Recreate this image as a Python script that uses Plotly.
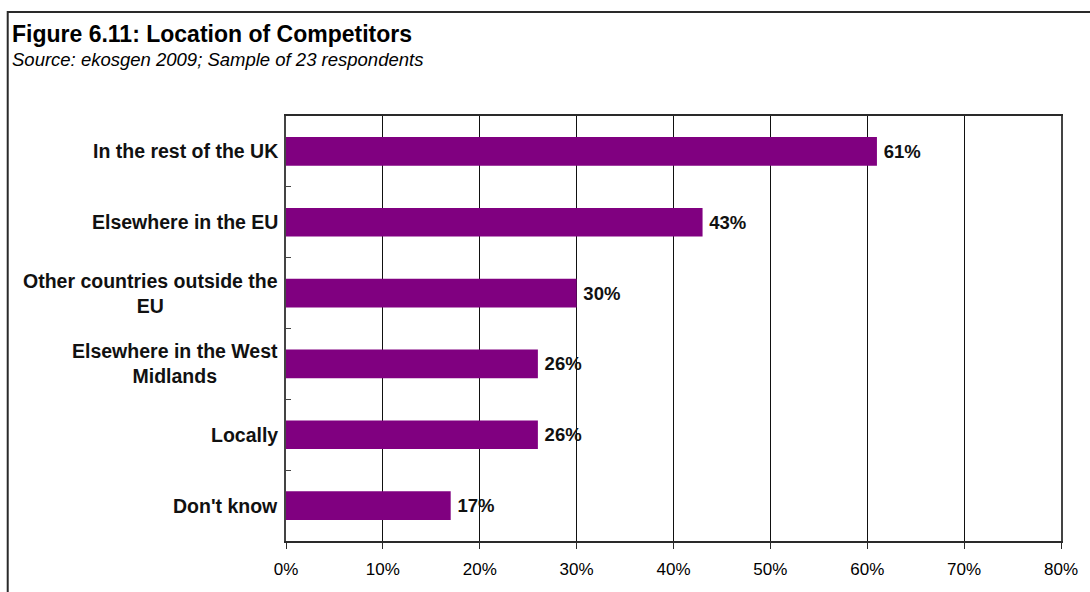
import plotly.graph_objects as go

# Survey responses: where firms see their competitors located
categories = [
    "In the rest of the UK",
    "Elsewhere in the EU",
    "Other countries outside the<br>EU",
    "Elsewhere in the West<br>Midlands",
    "Locally",
    "Don't know",
]
shares = [61, 43, 30, 26, 26, 17]  # percent of respondents

title_text = "Figure 6.11: Location of Competitors"
subtitle_text = "Source: ekosgen 2009; Sample of 23 respondents"

FONT = "Liberation Sans, Arial, sans-serif"
W, H = 1090, 592
ML, MR, MT, MB = 286, 27, 116, 51
PW, PH = W - ML - MR, H - MT - MB


def px_x(px):
    """Convert a pixel x position in the page to paper coordinates."""
    return (px - ML) / PW


def px_y(py):
    """Convert a pixel y position in the page to paper coordinates."""
    return 1 - (py - MT) / PH


fig = go.Figure(
    go.Bar(
        x=shares,
        y=categories,
        orientation="h",
        marker=dict(color="#800080", line=dict(width=0)),
        text=[f"\u2009{v}%" for v in shares],
        textposition="outside",
        textfont=dict(family=FONT, size=18.5, color="#111111", weight="bold"),
        cliponaxis=False,
        hoverinfo="skip",
    )
)

# Category labels as centred, multi-line annotations left of the axis
annotations = []
for cat in categories:
    annotations.append(
        dict(
            x=0, xref="paper", y=cat, yref="y",
            text=f"<b>{cat}</b>", showarrow=False,
            xanchor="right", yanchor="middle", align="center",
            xshift=-6,
            font=dict(family=FONT, size=19.5, color="#111111"),
        )
    )

annotations.append(
    dict(
        x=px_x(9), xref="paper", y=px_y(34), yref="paper",
        text=f"<b>{title_text}</b>", showarrow=False,
        xanchor="left", yanchor="middle",
        font=dict(family=FONT, size=23, color="#000000"),
    )
)
annotations.append(
    dict(
        x=px_x(9), xref="paper", y=px_y(60), yref="paper",
        text=f"<i>{subtitle_text}</i>", showarrow=False,
        xanchor="left", yanchor="middle",
        font=dict(family=FONT, size=18.5, color="#000000"),
    )
)

fig.update_layout(
    width=W, height=H,
    margin=dict(l=ML, r=MR, t=MT, b=MB, pad=0),
    paper_bgcolor="white", plot_bgcolor="white",
    bargap=0.595,
    showlegend=False,
    annotations=annotations,
    shapes=[
        # outer frame of the figure
        dict(
            type="rect", xref="paper", yref="paper",
            x0=px_x(7), x1=px_x(1200), y0=px_y(12), y1=px_y(700),
            line=dict(color="#2a2a2a", width=2), fillcolor="rgba(0,0,0,0)",
            layer="above",
        )
    ],
    xaxis=dict(
        range=[0, 80], dtick=10, ticksuffix="%",
        showgrid=True, gridcolor="#111111", gridwidth=1,
        showline=True, linecolor="#2a2a2a", linewidth=1.5, mirror=True,
        ticks="outside", ticklen=6, tickcolor="#2a2a2a",
        ticklabelstandoff=6,
        tickfont=dict(family=FONT, size=17, color="#000000"),
        zeroline=False, fixedrange=True,
    ),
    yaxis=dict(
        autorange="reversed",
        showticklabels=False,
        showline=True, linecolor="#444444", linewidth=1.5, mirror=True,
        ticks="inside", tickson="boundaries", ticklen=5, tickcolor="#444444",
        showgrid=False, zeroline=False, fixedrange=True,
    ),
)

fig.write_html("out.html")
